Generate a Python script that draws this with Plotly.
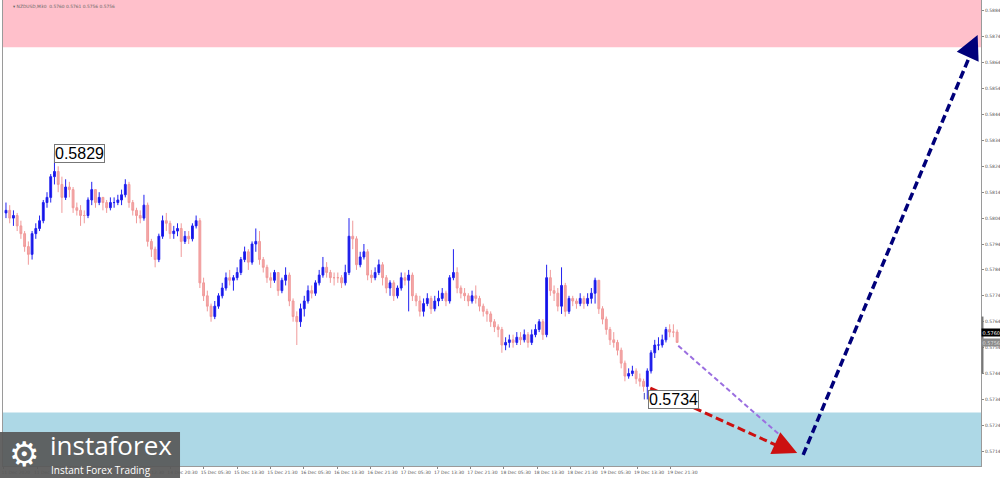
import plotly.graph_objects as go

# ---------------- data ----------------
first_open = 0.5806
closes = [0.5807,0.5804,0.5805,0.5801,0.5798,0.5793,0.5790,0.5798,0.5800,0.5803,
          0.5810,0.5812,0.5820,0.5822,0.5817,0.5812,0.5816,0.5815,0.5808,0.5807,
          0.5805,0.5805,0.5811,0.5815,0.5810,0.5812,0.5810,0.5808,0.5810,0.5810,
          0.5811,0.5813,0.5817,0.5810,0.5807,0.5805,0.5804,0.5809,0.5795,0.5792,
          0.5788,0.5797,0.5803,0.5802,0.5798,0.5799,0.5800,0.5795,0.5797,0.5796,
          0.5801,0.5803,0.5779,0.5774,0.5770,0.5766,0.5770,0.5774,0.5777,0.5781,
          0.5780,0.5781,0.5783,0.5788,0.5791,0.5787,0.5794,0.5795,0.5788,0.5785,
          0.5781,0.5780,0.5783,0.5776,0.5780,0.5782,0.5772,0.5766,0.5764,0.5769,
          0.5772,0.5776,0.5775,0.5779,0.5782,0.5785,0.5783,0.5781,0.5781,0.5781,
          0.5779,0.5783,0.5797,0.5796,0.5786,0.5789,0.5791,0.5782,0.5781,0.5783,
          0.5786,0.5781,0.5777,0.5779,0.5774,0.5777,0.5781,0.5780,0.5782,0.5774,
          0.5772,0.5768,0.5771,0.5773,0.5769,0.5772,0.5773,0.5775,0.5772,0.5781,
          0.5783,0.5777,0.5775,0.5774,0.5772,0.5774,0.5773,0.5770,0.5768,0.5767,
          0.5764,0.5762,0.5761,0.5755,0.5756,0.5757,0.5756,0.5758,0.5757,0.5759,
          0.5756,0.5759,0.5761,0.5764,0.5759,0.5781,0.5776,0.5775,0.5770,0.5778,
          0.5768,0.5773,0.5772,0.5771,0.5773,0.5771,0.5773,0.5775,0.5780,0.5769,
          0.5765,0.5761,0.5757,0.5756,0.5753,0.5748,0.5743,0.5744,0.5745,0.5742,
          0.5741,0.5739,0.5745,0.5752,0.5755,0.5755,0.5757,0.5761,0.5760,0.5760,
          0.5756]
highs = [0.5810,0.5809,0.5807,0.5806,0.5803,0.5799,0.5795,0.5799,0.5802,0.5805,
         0.5811,0.5814,0.5821,0.5829,0.5824,0.5820,0.5819,0.5818,0.5816,0.5810,
         0.5809,0.5807,0.5812,0.5818,0.5815,0.5814,0.5812,0.5811,0.5812,0.5812,
         0.5813,0.5815,0.5819,0.5818,0.5811,0.5808,0.5807,0.5813,0.5810,0.5796,
         0.5793,0.5798,0.5805,0.5806,0.5803,0.5801,0.5802,0.5802,0.5799,0.5799,
         0.5802,0.5805,0.5804,0.5781,0.5776,0.5771,0.5772,0.5775,0.5779,0.5783,
         0.5784,0.5782,0.5785,0.5789,0.5793,0.5792,0.5795,0.5800,0.5799,0.5789,
         0.5786,0.5783,0.5784,0.5782,0.5781,0.5785,0.5783,0.5773,0.5768,0.5771,
         0.5774,0.5778,0.5778,0.5780,0.5784,0.5789,0.5787,0.5784,0.5783,0.5783,
         0.5782,0.5786,0.5804,0.5803,0.5797,0.5791,0.5794,0.5792,0.5784,0.5785,
         0.5788,0.5787,0.5782,0.5780,0.5780,0.5778,0.5783,0.5783,0.5784,0.5783,
         0.5775,0.5774,0.5773,0.5775,0.5774,0.5774,0.5776,0.5777,0.5776,0.5782,
         0.5792,0.5785,0.5778,0.5777,0.5775,0.5776,0.5778,0.5774,0.5771,0.5769,
         0.5768,0.5765,0.5763,0.5762,0.5758,0.5759,0.5759,0.5760,0.5760,0.5761,
         0.5760,0.5761,0.5763,0.5765,0.5765,0.5786,0.5784,0.5778,0.5777,0.5785,
         0.5779,0.5774,0.5774,0.5773,0.5775,0.5774,0.5775,0.5777,0.5781,0.5780,
         0.5770,0.5766,0.5762,0.5760,0.5757,0.5754,0.5749,0.5746,0.5747,0.5746,
         0.5744,0.5742,0.5746,0.5753,0.5757,0.5758,0.5759,0.5762,0.5763,0.5763,
         0.5761]
lows = [0.5804,0.5802,0.5801,0.5799,0.5796,0.5791,0.5786,0.5788,0.5796,0.5799,
        0.5802,0.5808,0.5810,0.5817,0.5814,0.5806,0.5811,0.5812,0.5806,0.5805,
        0.5801,0.5802,0.5804,0.5809,0.5808,0.5809,0.5807,0.5806,0.5807,0.5808,
        0.5809,0.5809,0.5812,0.5808,0.5805,0.5802,0.5802,0.5803,0.5793,0.5789,
        0.5785,0.5787,0.5796,0.5799,0.5796,0.5796,0.5797,0.5789,0.5794,0.5794,
        0.5795,0.5800,0.5777,0.5772,0.5768,0.5764,0.5765,0.5769,0.5773,0.5776,
        0.5778,0.5776,0.5780,0.5782,0.5787,0.5784,0.5786,0.5791,0.5786,0.5783,
        0.5779,0.5777,0.5779,0.5774,0.5775,0.5778,0.5770,0.5764,0.5755,0.5762,
        0.5766,0.5771,0.5773,0.5774,0.5778,0.5781,0.5781,0.5779,0.5778,0.5779,
        0.5777,0.5778,0.5782,0.5792,0.5784,0.5785,0.5788,0.5780,0.5779,0.5780,
        0.5782,0.5778,0.5775,0.5774,0.5772,0.5773,0.5776,0.5778,0.5768,0.5772,
        0.5770,0.5766,0.5766,0.5770,0.5767,0.5768,0.5770,0.5772,0.5770,0.5771,
        0.5780,0.5775,0.5773,0.5772,0.5770,0.5771,0.5771,0.5768,0.5766,0.5764,
        0.5762,0.5760,0.5758,0.5752,0.5753,0.5754,0.5754,0.5755,0.5755,0.5756,
        0.5754,0.5755,0.5758,0.5760,0.5757,0.5758,0.5774,0.5772,0.5768,0.5767,
        0.5766,0.5767,0.5770,0.5769,0.5770,0.5769,0.5770,0.5771,0.5771,0.5767,
        0.5763,0.5759,0.5755,0.5754,0.5751,0.5746,0.5741,0.5742,0.5743,0.5740,
        0.5739,0.5737,0.5734,0.5744,0.5750,0.5753,0.5754,0.5756,0.5758,0.5758,
        0.5756]

opens = [first_open] + closes[:-1]
highs = [max(h, o, c) for h, o, c in zip(highs, opens, closes)]
lows = [min(l, o, c) for l, o, c in zip(lows, opens, closes)]
bars = list(range(len(closes)))

tick_labels = ["11 Dec 2020", "11 Dec 12:30", "11 Dec 20:30", "14 Dec 04:30",
               "14 Dec 12:30", "14 Dec 20:30", "15 Dec 05:30", "15 Dec 13:30",
               "15 Dec 21:30", "16 Dec 05:30", "16 Dec 13:30", "16 Dec 21:30",
               "17 Dec 05:30", "17 Dec 13:30", "17 Dec 21:30", "18 Dec 05:30",
               "18 Dec 13:30", "18 Dec 21:30", "19 Dec 05:30", "19 Dec 13:30",
               "19 Dec 21:30"]
first_tick_bar = -0.6
bars_per_tick = 8.94

price_ticks = [0.5714, 0.5724, 0.5734, 0.5744, 0.5754, 0.5764, 0.5774, 0.5784,
               0.5794, 0.5804, 0.5814, 0.5824, 0.5834, 0.5844, 0.5854, 0.5864,
               0.5874, 0.5884]

# zones and forecast path (bar index, price)
sell_zone = (0.5870, 0.58882)
buy_zone = (0.57083, 0.5729)
marked_high = (13, 0.5829)
marked_low = (172, 0.5734)
purple_path = [(180.3, 0.57547), (209.0, 0.57184)]
red_path = [(172.8, 0.57384), (212.2, 0.57133)]
navy_path = [(213.8, 0.57126), (260.6, 0.58747)]
last_close = 0.5760
bid_price = 0.5756
y_range = [0.57083, 0.58882]
x_range = [-0.8, 261.5]

# ---------------- figure ----------------
fig = go.Figure()
fig.add_trace(go.Candlestick(
    x=bars, open=opens, high=highs, low=lows, close=closes,
    increasing=dict(line=dict(color="#2020f0", width=1), fillcolor="#1010e0"),
    decreasing=dict(line=dict(color="#f09a9a", width=1), fillcolor="#f4a8a8"),
    whiskerwidth=0, showlegend=False, hoverinfo="skip"))

shapes = [
    dict(type="rect", xref="paper", yref="y", x0=0, x1=1, y0=sell_zone[0], y1=sell_zone[1],
         fillcolor="#ffc0cb", line_width=0, layer="below"),
    dict(type="rect", xref="paper", yref="y", x0=0, x1=1, y0=buy_zone[0], y1=buy_zone[1],
         fillcolor="#add8e6", line_width=0, layer="below"),
    dict(type="line", xref="x", yref="y", x0=purple_path[0][0], y0=purple_path[0][1],
         x1=purple_path[1][0], y1=purple_path[1][1],
         line=dict(color="#9b6fe0", width=2, dash="5px,3px")),
    dict(type="line", xref="x", yref="y", x0=red_path[0][0], y0=red_path[0][1],
         x1=red_path[1][0] - 3, y1=red_path[1][1] + 0.00013,
         line=dict(color="#cc1010", width=3, dash="8px,4px")),
    dict(type="line", xref="x", yref="y", x0=navy_path[0][0], y0=navy_path[0][1],
         x1=navy_path[1][0] - 1.5, y1=navy_path[1][1] - 0.0006,
         line=dict(color="#00007a", width=3.5, dash="8px,4px")),
    # connector for the low label
    dict(type="line", xref="x", yref="y", x0=marked_low[0] - 0.8, x1=marked_low[0] - 0.8,
         y0=marked_low[1] + 0.00025, y1=marked_low[1], line=dict(color="#4040c0", width=1)),
    # right axis range marker
    dict(type="line", xref="paper", yref="y", x0=1.0015, x1=1.0015, y0=0.5744, y1=0.5766,
         line=dict(color="#777777", width=2)),
    # logo plate
    dict(type="rect", xref="paper", yref="paper", x0=-0.0031, x1=0.181, y0=-0.0258, y1=0.073,
         fillcolor="rgba(88,88,88,0.93)", line_width=0, layer="above"),
]

annotations = [
    dict(x=marked_high[0], y=marked_high[1], xref="x", yref="y", text=f"{marked_high[1]:.4f}",
         showarrow=False, xanchor="left", yanchor="middle", xshift=0,
         font=dict(family="Liberation Sans", size=16, color="#000"),
         bgcolor="#ffffff", bordercolor="#777777", borderwidth=1, borderpad=0),
    dict(x=marked_low[0], y=marked_low[1], xref="x", yref="y", text=f"{marked_low[1]:.4f}",
         showarrow=False, xanchor="left", yanchor="middle", xshift=1,
         font=dict(family="Liberation Sans", size=16, color="#000"),
         bgcolor="#ffffff", bordercolor="#777777", borderwidth=1, borderpad=0),
    # arrow heads
    dict(x=red_path[1][0], y=red_path[1][1], xref="x", yref="y", ax=-11, ay=-5,
         showarrow=True, arrowhead=2, arrowsize=1.6, arrowwidth=3, arrowcolor="#cc1010",
         text="", standoff=0),
    dict(x=navy_path[1][0], y=navy_path[1][1], xref="x", yref="y", ax=-5, ay=11,
         showarrow=True, arrowhead=2, arrowsize=1.6, arrowwidth=3, arrowcolor="#00007a",
         text="", standoff=0),
    # header
    dict(x=0.008, y=0.995, xref="paper", yref="paper", showarrow=False, xanchor="left",
         yanchor="top", text="▾ NZDUSD,M30  0.5760 0.5761 0.5756 0.5756",
         font=dict(family="DejaVu Sans", size=4.4, color="#666666")),
    # price tags on axis
    dict(x=1.0, y=last_close, xref="paper", yref="y", showarrow=False, xanchor="left",
         yanchor="middle", text=f"{last_close:.4f}", bgcolor="#000000",
         font=dict(family="DejaVu Sans", size=5, color="#ffffff"), borderpad=0.5),
    dict(x=1.0, y=bid_price, xref="paper", yref="y", showarrow=False, xanchor="left",
         yanchor="middle", text=f"{bid_price:.4f}", bgcolor="#8a8a8a",
         font=dict(family="DejaVu Sans", size=5, color="#dddddd"), borderpad=0.5),
    # logo texts
    dict(x=0.004, y=0.025, xref="paper", yref="paper", showarrow=False, xanchor="left",
         yanchor="middle", text="⚙", font=dict(family="DejaVu Sans", size=34, color="#ffffff")),
    dict(x=0.046, y=0.045, xref="paper", yref="paper", showarrow=False, xanchor="left",
         yanchor="middle", text="instaforex",
         font=dict(family="Open Sans", size=26, color="#ffffff")),
    dict(x=0.047, y=-0.008, xref="paper", yref="paper", showarrow=False, xanchor="left",
         yanchor="middle", text="Instant Forex Trading",
         font=dict(family="Open Sans", size=10, color="#ffffff")),
]

fig.update_layout(
    width=1000, height=478,
    margin=dict(l=3, r=19, t=0, b=12, pad=0),
    paper_bgcolor="#ffffff", plot_bgcolor="#ffffff",
    shapes=shapes, annotations=annotations, showlegend=False,
    xaxis=dict(range=x_range, rangeslider=dict(visible=False), showgrid=False, zeroline=False,
               tickmode="array",
               tickvals=[first_tick_bar + bars_per_tick * j for j in range(len(tick_labels))],
               ticktext=tick_labels, ticks="outside", ticklen=2, tickcolor="#888",
               ticklabelshift=12, ticklabelstandoff=0, automargin=False,
               tickfont=dict(family="DejaVu Sans", size=4.5, color="#555555"),
               showline=True, linecolor="#9a9a9a", linewidth=1, mirror=True),
    yaxis=dict(range=y_range, side="right", showgrid=False, zeroline=False,
               tickmode="array", tickvals=price_ticks, automargin=False,
               ticktext=[f"{v:.4f}" for v in price_ticks],
               ticks="outside", ticklen=2, tickcolor="#888",
               tickfont=dict(family="DejaVu Sans", size=4.5, color="#555555"),
               showline=True, linecolor="#9a9a9a", linewidth=1, mirror=True),
)

fig.write_html("out.html", config={"displayModeBar": False},
               post_script="document.body.style.margin='0';document.body.style.overflow='hidden';")
